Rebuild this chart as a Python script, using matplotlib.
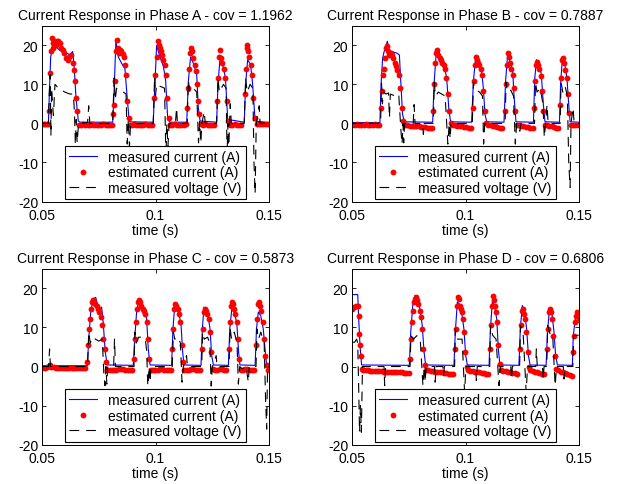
import matplotlib
matplotlib.use("Agg")
import matplotlib.pyplot as plt

plt.rcParams['font.family'] = ['Liberation Sans', 'DejaVu Sans']
plt.rcParams['axes.unicode_minus'] = False
plt.rcParams['lines.scale_dashes'] = False

# ---------------- Phase A ----------------
tA_meas = [0.050, 0.0527, 0.0531, 0.0537, 0.0544, 0.0556, 0.0571, 0.0585, 0.0608, 0.0622, 0.0634, 0.0640, 0.0649, 0.0659, 0.0666,
           0.0811, 0.0817, 0.0825, 0.0836, 0.0850, 0.0865, 0.0873, 0.0884,
           0.0990, 0.0998, 0.1005, 0.1017, 0.1035, 0.1045, 0.1054, 0.1064,
           0.1138, 0.1145, 0.1155, 0.1167, 0.1182, 0.1189, 0.1197,
           0.1270, 0.1276, 0.1285, 0.1297, 0.1309, 0.1319,
           0.1392, 0.1398, 0.1407, 0.1420, 0.1429, 0.1440, 0.150]
iA_meas = [0.2, 0.2, 7.4, 17.0, 19.0, 20.0, 19.0, 18.4, 18.0, 17.5, 18.4, 15.0, 6.5, 0.6, 0.3,
           0.3, 8.0, 21.0, 17.0, 15.4, 14.0, 8.0, 0.4,
           0.3, 10.8, 20.0, 17.5, 14.6, 10.8, 1.0, 0.3,
           0.3, 10.8, 17.0, 15.4, 12.5, 4.0, 0.6,
           0.3, 10.0, 16.7, 15.0, 11.6, 1.0,
           0.3, 10.0, 16.3, 15.0, 10.0, 0.6, 0.2]

tA_est = [0.0500, 0.0507, 0.0514, 0.0521, 0.0527,
          0.0531, 0.0534, 0.0538, 0.0541, 0.0546, 0.0549, 0.0553, 0.0559, 0.0563, 0.0571, 0.0578, 0.0582,
          0.0590, 0.0597, 0.0605, 0.0612, 0.0619, 0.0627, 0.0634, 0.0640, 0.0644, 0.0649, 0.0655, 0.0661,
          0.0670, 0.0680, 0.0690, 0.0700, 0.0710, 0.0720, 0.0730, 0.0740, 0.0750, 0.0760, 0.0770, 0.0780,
          0.0790, 0.0800, 0.0810,
          0.0814, 0.0817, 0.0821, 0.0825, 0.0828, 0.0833, 0.0837, 0.0843, 0.0849, 0.0855, 0.0861, 0.0865,
          0.0870, 0.0876, 0.0881, 0.0887,
          0.0895, 0.0905, 0.0915, 0.0925, 0.0935, 0.0945, 0.0955, 0.0965, 0.0975, 0.0985,
          0.0995, 0.0999, 0.1005, 0.1010, 0.1014, 0.1018, 0.1023, 0.1029, 0.1035, 0.1041, 0.1046, 0.1052,
          0.1058, 0.1064,
          0.1074, 0.1084, 0.1094, 0.1104, 0.1114, 0.1124, 0.1134,
          0.1141, 0.1145, 0.1150, 0.1154, 0.1157, 0.1161, 0.1167, 0.1173, 0.1179, 0.1185, 0.1189, 0.1194, 0.1200,
          0.1210, 0.1220, 0.1230, 0.1240, 0.1250, 0.1260,
          0.1273, 0.1278, 0.1282, 0.1285, 0.1289, 0.1295, 0.1301, 0.1307, 0.1314, 0.1322, 0.1329,
          0.1339, 0.1349, 0.1359, 0.1369, 0.1379,
          0.1394, 0.1398, 0.1403, 0.1406, 0.1410, 0.1415, 0.1420, 0.1426, 0.1432, 0.1440, 0.1447,
          0.1457, 0.1467, 0.1477, 0.1487, 0.1497]
iA_est = [-0.1, -0.1, -0.1, -0.1, -0.1,
          3.1, 13.0, 18.4, 21.8, 20.5, 19.2, 21.0, 20.0, 21.0, 21.0, 20.5, 19.2,
          18.8, 18.0, 16.7, 16.3, 16.9, 17.5, 15.4, 13.7, 10.8, 6.5, 3.1, -0.3,
          -0.3, -0.2, -0.3, -0.4, -0.3, -0.2, -0.3, -0.3, -0.4, -0.3, -0.2, -0.3,
          -0.3, -0.4, -0.3,
          2.3, 4.8, 10.8, 18.4, 21.4, 19.2, 18.0, 18.8, 18.5, 17.8, 17.0, 15.0,
          12.5, 5.7, 1.4, -0.3,
          -0.3, -0.2, -0.3, -0.4, -0.3, -0.3, -0.2, -0.3, -0.4, -0.3,
          6.5, 12.5, 17.0, 21.0, 20.0, 19.2, 18.4, 17.5, 16.3, 15.0, 12.5, 6.5,
          1.4, -0.3,
          -0.3, -0.2, -0.3, -0.4, -0.3, -0.3, -0.2,
          4.0, 9.0, 14.0, 18.0, 19.2, 18.4, 16.7, 15.0, 13.3, 10.0, 5.7, 2.3, -0.1,
          -0.3, -0.2, -0.3, -0.4, -0.3, -0.3,
          5.7, 11.6, 17.0, 18.8, 16.7, 15.4, 14.0, 11.6, 5.7, 0.6, -0.3,
          -0.3, -0.2, -0.3, -0.4, -0.3,
          7.4, 14.0, 19.2, 20.0, 18.4, 17.0, 15.0, 12.5, 6.5, 1.4, -0.1,
          -0.1, -0.2, -0.1, -0.1, -0.2]

tA_volt = [0.050, 0.0527, 0.0531, 0.0535, 0.0538, 0.0541, 0.0549, 0.0556, 0.0571, 0.0585, 0.0600, 0.0622,
           0.0637, 0.0642, 0.0646, 0.0650, 0.0654, 0.0660, 0.0700, 0.0705, 0.0710,
           0.0811, 0.0817, 0.0822, 0.0828, 0.0843, 0.0858, 0.0870, 0.0875, 0.0880, 0.0885, 0.0890,
           0.0990, 0.0996, 0.1000, 0.1005, 0.1020, 0.1040, 0.1046, 0.1050, 0.1055, 0.1060, 0.1088, 0.1093, 0.1097,
           0.1140, 0.1145, 0.1152, 0.1167, 0.1182, 0.1190, 0.1195, 0.1200, 0.1205, 0.1215, 0.1220,
           0.1270, 0.1276, 0.1282, 0.1300, 0.1312, 0.1316, 0.1320, 0.1323, 0.1327, 0.1330, 0.1335,
           0.1392, 0.1398, 0.1405, 0.1418, 0.1430, 0.1435, 0.1440, 0.1445, 0.1458, 0.1462, 0.150]
vA_volt = [0.0, 0.0, 8.0, 12.5, -3.2, 9.0, 2.0, 10.0, 9.0, 8.5, 8.0, 7.5,
           7.5, 3.0, -5.5, 1.0, -5.0, 0.0, 0.2, 4.5, 0.0,
           0.0, 11.6, 6.0, 9.0, 8.5, 8.0, 7.5, -5.3, 1.0, -6.0, 0.0,
           0.0, 12.0, 7.0, 10.0, 9.5, 9.0, -9.0, 0.0, -6.0, 0.0, 0.0, 4.0, 0.0,
           0.0, 11.0, 8.0, 9.0, 8.0, -5.0, 0.5, -5.0, 0.0, 3.0, 0.0,
           0.0, 11.6, 8.0, 10.0, 9.0, -8.0, 0.0, -8.0, 0.0, 5.0, 0.0,
           0.0, 11.6, 8.0, 10.0, 9.0, -10.0, -18.0, 0.0, 4.5, 0.0, 0.0]

# ---------------- Phase B ----------------
tB_meas = [0.050, 0.0622, 0.0627, 0.0634, 0.0644, 0.0655, 0.0663, 0.0674, 0.0696, 0.0708, 0.0714, 0.0722, 0.0730,
           0.0855, 0.0861, 0.0870, 0.0880, 0.0890, 0.0905, 0.0917, 0.0926, 0.0934,
           0.1027, 0.1035, 0.1045, 0.1057, 0.1071, 0.1079, 0.1086, 0.1094,
           0.1170, 0.1177, 0.1186, 0.1197, 0.1208, 0.1214, 0.1223,
           0.1300, 0.1306, 0.1314, 0.1326, 0.1335, 0.1344, 0.1351,
           0.1415, 0.1420, 0.1428, 0.1440, 0.1448, 0.1456, 0.1462, 0.150]
iB_meas = [0.2, 0.2, 10.0, 16.7, 19.2, 21.0, 18.4, 18.4, 18.0, 17.5, 10.8, 2.3, 0.4,
           0.3, 10.0, 17.5, 19.2, 16.7, 15.0, 11.6, 4.0, 0.4,
           0.3, 10.8, 17.0, 15.8, 13.3, 9.0, 2.3, 0.4,
           0.3, 10.8, 17.5, 15.8, 13.7, 7.4, 0.4,
           0.3, 11.6, 16.3, 15.0, 12.5, 4.8, 0.4,
           0.3, 10.0, 16.7, 14.6, 11.6, 4.8, 0.4, 0.3]

tB_est = [0.0500, 0.0510, 0.0520, 0.0530, 0.0540, 0.0550, 0.0560, 0.0570, 0.0580, 0.0590, 0.0600, 0.0610, 0.0620,
          0.0627, 0.0631, 0.0635, 0.0638, 0.0643, 0.0649, 0.0653, 0.0658, 0.0663, 0.0669, 0.0675, 0.0681,
          0.0687, 0.0693, 0.0699, 0.0705, 0.0711, 0.0718, 0.0725, 0.0733,
          0.0743, 0.0753, 0.0763, 0.0773, 0.0783, 0.0793, 0.0803, 0.0813, 0.0823, 0.0833, 0.0843, 0.0853,
          0.0858, 0.0862, 0.0867, 0.0871, 0.0876, 0.0880, 0.0886, 0.0892, 0.0898, 0.0904, 0.0910, 0.0915,
          0.0921, 0.0927, 0.0934,
          0.0944, 0.0954, 0.0964, 0.0974, 0.0984, 0.0994, 0.1004, 0.1014, 0.1024,
          0.1032, 0.1036, 0.1041, 0.1045, 0.1049, 0.1055, 0.1061, 0.1067, 0.1073, 0.1079, 0.1085, 0.1091,
          0.1101, 0.1111, 0.1121, 0.1131, 0.1141, 0.1151, 0.1161,
          0.1175, 0.1179, 0.1183, 0.1188, 0.1192, 0.1197, 0.1203, 0.1208, 0.1214, 0.1220, 0.1226,
          0.1236, 0.1246, 0.1256, 0.1266, 0.1276, 0.1286, 0.1296,
          0.1303, 0.1307, 0.1312, 0.1316, 0.1320, 0.1326, 0.1332, 0.1338, 0.1344, 0.1350,
          0.1360, 0.1370, 0.1380, 0.1390, 0.1400, 0.1410,
          0.1418, 0.1422, 0.1426, 0.1431, 0.1435, 0.1441, 0.1447, 0.1453, 0.1459, 0.1465,
          0.1475, 0.1485, 0.1495]
iB_est = [-0.3, -0.3, -0.2, -0.3, -0.3, -0.3, -0.2, -0.3, -0.3, -0.3, -0.2, -0.3, -0.3,
          4.0, 8.2, 12.5, 14.0, 16.7, 19.2, 19.7, 18.4, 17.5, 18.0, 17.5, 16.7,
          15.4, 14.6, 13.7, 12.5, 9.0, 4.0, 0.6, -0.3,
          -0.5, -0.6, -0.7, -0.7, -0.8, -0.8, -0.9, -0.9, -1.0, -1.1, -1.2, -1.3,
          3.1, 10.0, 15.4, 18.0, 18.8, 17.5, 16.7, 16.3, 15.4, 15.0, 14.0, 11.6,
          7.4, 3.1, 0.0,
          -0.3, -0.5, -0.6, -0.7, -0.8, -0.9, -1.0, -1.2, -1.3,
          4.0, 10.8, 15.0, 17.0, 16.3, 15.4, 15.0, 14.0, 12.5, 8.2, 3.1, 0.0,
          -0.3, -0.5, -0.7, -0.8, -1.0, -1.1, -1.3,
          3.1, 10.0, 15.0, 18.0, 17.0, 15.4, 14.0, 12.5, 9.0, 3.1, -0.3,
          -0.4, -0.6, -0.7, -0.9, -1.0, -1.2, -1.3,
          4.0, 10.8, 15.0, 15.8, 15.0, 14.0, 12.0, 8.2, 3.1, -0.3,
          -0.4, -0.6, -0.8, -1.0, -1.1, -1.3,
          4.8, 11.6, 16.3, 16.7, 15.4, 13.7, 11.6, 7.4, 2.7, -0.3,
          -0.4, -0.5, -0.5]

tB_volt = [0.050, 0.0625, 0.0629, 0.0633, 0.0638, 0.0649, 0.0660, 0.0664, 0.0668, 0.0690, 0.0705, 0.0715,
           0.0720, 0.0724, 0.0727, 0.0731, 0.0769, 0.0773, 0.0777, 0.0810, 0.0814, 0.0818,
           0.0858, 0.0862, 0.0867, 0.0880, 0.0895, 0.0910, 0.0922, 0.0928, 0.0932, 0.0936,
           0.1030, 0.1035, 0.1040, 0.1050, 0.1062, 0.1075, 0.1080, 0.1085,
           0.1175, 0.1179, 0.1185, 0.1200, 0.1212, 0.1220, 0.1226, 0.1240, 0.1245,
           0.1305, 0.1309, 0.1316, 0.1330, 0.1342, 0.1348, 0.1354, 0.1360, 0.1365,
           0.1418, 0.1422, 0.1430, 0.1440, 0.1450, 0.1456, 0.1462, 0.1466, 0.1475, 0.1480, 0.150]
vB_volt = [0.0, 0.0, 10.3, 5.0, 8.0, 7.5, 7.8, 1.4, 7.5, 7.0, 7.5, -2.0,
           -5.3, 0.0, -5.0, 0.0, 0.0, 4.8, 0.0, 0.0, -2.8, 0.0,
           0.0, 10.5, 7.0, 8.0, 7.5, 7.0, -5.3, 0.0, -4.0, 0.0,
           0.0, 10.5, 9.0, 8.5, 8.0, 7.0, -5.3, 0.0,
           0.0, 10.5, 8.0, 8.5, 7.0, -5.3, 0.0, -2.0, 0.0,
           0.0, 10.5, 8.0, 9.0, 5.0, -3.6, 0.0, 4.8, 0.0,
           0.0, 10.5, 8.0, 9.5, 7.0, -10.0, -16.4, 0.0, 4.0, 0.0, 0.0]

# ---------------- Phase C ----------------
tC_meas = [0.050, 0.0699, 0.0705, 0.0714, 0.0725, 0.0736, 0.0744, 0.0755, 0.0762, 0.0769, 0.0778, 0.0787,
           0.0902, 0.0908, 0.0917, 0.0927, 0.0939, 0.0951, 0.0961, 0.0968, 0.0976,
           0.1071, 0.1077, 0.1085, 0.1094, 0.1104, 0.1113, 0.1120, 0.1126,
           0.1201, 0.1207, 0.1214, 0.1223, 0.1233, 0.1241, 0.1248, 0.1256,
           0.1322, 0.1328, 0.1337, 0.1347, 0.1359, 0.1367, 0.1373,
           0.1440, 0.1446, 0.1454, 0.1465, 0.1476, 0.1485, 0.1491, 0.150]
iC_meas = [0.2, 0.2, 7.0, 14.0, 17.3, 17.7, 15.6, 14.7, 15.2, 11.3, 3.7, 0.4,
           0.3, 7.0, 14.3, 16.9, 15.2, 14.3, 12.2, 4.5, 0.4,
           0.3, 9.6, 15.6, 14.7, 13.5, 10.5, 3.7, 0.4,
           0.3, 9.6, 15.2, 13.9, 12.6, 9.6, 2.8, 0.4,
           0.3, 9.6, 14.7, 13.9, 11.3, 3.7, 0.4,
           0.3, 9.6, 13.9, 13.0, 9.6, 3.7, 0.4, 0.4]

tC_est = [0.0500, 0.0510, 0.0520, 0.0530, 0.0534, 0.0540, 0.0550, 0.0560, 0.0570, 0.0580, 0.0590, 0.0600,
          0.0610, 0.0620, 0.0630, 0.0640, 0.0650, 0.0660, 0.0670, 0.0680, 0.0690,
          0.0699, 0.0703, 0.0708, 0.0712, 0.0717, 0.0721, 0.0725, 0.0730, 0.0734, 0.0740, 0.0746, 0.0752,
          0.0758, 0.0764, 0.0770, 0.0775, 0.0781, 0.0787,
          0.0797, 0.0807, 0.0817, 0.0827, 0.0837, 0.0847, 0.0857, 0.0867, 0.0877, 0.0887, 0.0897,
          0.0905, 0.0909, 0.0914, 0.0918, 0.0922, 0.0927, 0.0932, 0.0937, 0.0943, 0.0949, 0.0955, 0.0961,
          0.0967, 0.0973, 0.0979,
          0.0989, 0.0999, 0.1009, 0.1019, 0.1029, 0.1039, 0.1049, 0.1059, 0.1069,
          0.1074, 0.1079, 0.1083, 0.1088, 0.1092, 0.1098, 0.1104, 0.1110, 0.1116, 0.1122, 0.1127,
          0.1137, 0.1147, 0.1157, 0.1167, 0.1177, 0.1187, 0.1197,
          0.1204, 0.1208, 0.1213, 0.1217, 0.1223, 0.1229, 0.1235, 0.1241, 0.1246, 0.1253,
          0.1263, 0.1273, 0.1283, 0.1293, 0.1303, 0.1313,
          0.1325, 0.1329, 0.1334, 0.1338, 0.1342, 0.1347, 0.1353, 0.1359, 0.1365, 0.1370, 0.1376,
          0.1386, 0.1396, 0.1406, 0.1416, 0.1426, 0.1436,
          0.1444, 0.1449, 0.1453, 0.1457, 0.1462, 0.1468, 0.1474, 0.1479, 0.1485, 0.1491, 0.1497]
iC_est = [-0.3, -0.3, -0.2, 0.2, 0.4, 0.0, -0.2, -0.3, -0.3, -0.4, -0.3, -0.3,
          -0.4, -0.3, -0.3, -0.4, -0.3, -0.3, -0.4, -0.3, -0.3,
          1.1, 5.4, 9.6, 12.2, 14.7, 16.4, 16.9, 16.4, 16.0, 15.6, 14.7, 13.9,
          12.6, 10.5, 7.0, 4.5, 1.1, -1.0,
          -1.0, -0.9, -0.8, -0.8, -0.7, -0.7, -0.7, -0.8, -0.8, -0.9, -0.9,
          2.0, 7.0, 11.3, 14.7, 16.4, 17.1, 16.4, 15.6, 14.7, 14.3, 13.5, 11.3,
          7.0, 2.0, -0.9,
          -0.9, -0.8, -0.8, -0.7, -0.7, -0.8, -0.8, -0.9, -0.9,
          4.5, 9.6, 14.7, 16.0, 15.6, 14.7, 13.5, 11.3, 5.4, 1.1, -0.8,
          -0.9, -0.8, -0.7, -0.7, -0.8, -0.8, -0.9,
          4.5, 9.6, 13.9, 14.7, 14.3, 13.5, 12.2, 8.8, 3.7, -0.6,
          -0.8, -0.8, -0.7, -0.7, -0.8, -0.9,
          4.5, 11.3, 15.6, 16.4, 16.0, 14.7, 13.5, 11.3, 7.0, 2.0, -0.8,
          -0.8, -0.7, -0.7, -0.8, -0.8, -0.9,
          5.4, 12.2, 16.0, 16.4, 15.6, 14.3, 11.3, 7.0, 2.8, 0.3, -1.0]

tC_volt = [0.050, 0.0528, 0.0532, 0.0536, 0.0700, 0.0705, 0.0712, 0.0720, 0.0735, 0.0750, 0.0765, 0.0772,
           0.0777, 0.0781, 0.0785, 0.0789, 0.0815, 0.0819, 0.0823,
           0.0905, 0.0909, 0.0915, 0.0925, 0.0940, 0.0955, 0.0961, 0.0966, 0.0972, 0.0976, 0.0980,
           0.1074, 0.1079, 0.1085, 0.1100, 0.1110, 0.1117, 0.1123, 0.1137, 0.1141,
           0.1204, 0.1208, 0.1215, 0.1230, 0.1240, 0.1246, 0.1251, 0.1268, 0.1272,
           0.1325, 0.1329, 0.1336, 0.1348, 0.1360, 0.1366, 0.1372, 0.1382, 0.1400, 0.1410, 0.1414,
           0.1444, 0.1448, 0.1455, 0.1465, 0.1480, 0.1486, 0.1491, 0.1495, 0.150]
vC_volt = [0.0, 0.0, 4.5, 0.0, 0.0, 8.8, 6.0, 7.5, 7.0, 6.5, 7.0, -2.0,
           -4.9, 0.0, -4.5, 0.0, 0.0, 7.0, 0.0,
           0.0, 8.8, 6.0, 7.5, 7.5, 7.0, 4.0, -5.0, 0.0, -4.0, 0.0,
           0.0, 8.8, 7.0, 7.5, 6.0, -4.0, 0.0, 2.8, 0.0,
           0.0, 8.8, 7.0, 7.5, 6.0, -5.0, 0.0, 2.8, 0.0,
           0.0, 10.0, 7.0, 8.8, 6.0, -4.5, 0.0, -0.6, 0.0, -4.0, 0.0,
           0.0, 9.6, 7.0, 8.8, 6.0, -8.0, -16.0, 0.0, 0.0]

# ---------------- Phase D ----------------
tD_meas = [0.050, 0.0524, 0.0529, 0.0534, 0.0541,
           0.0752, 0.0758, 0.0767, 0.0777, 0.0787, 0.0799, 0.0809, 0.0817, 0.0824,
           0.0949, 0.0955, 0.0964, 0.0973, 0.0983, 0.0993, 0.1001, 0.1008,
           0.1104, 0.1110, 0.1119, 0.1127, 0.1138, 0.1145, 0.1152,
           0.1236, 0.1242, 0.1251, 0.1260, 0.1270, 0.1278, 0.1285,
           0.1356, 0.1362, 0.1371, 0.1381, 0.1391, 0.1398, 0.1406,
           0.1472, 0.1476, 0.1485, 0.1494, 0.150]
iD_meas = [18.4, 18.4, 11.3, 5.4, 0.4,
           0.3, 8.8, 15.6, 18.2, 16.9, 14.7, 10.5, 3.7, 0.4,
           0.3, 8.8, 16.5, 16.0, 13.9, 9.6, 2.8, 0.4,
           0.3, 9.6, 16.9, 15.6, 12.2, 4.5, 0.4,
           0.3, 9.6, 15.6, 14.3, 9.6, 2.8, 0.4,
           0.3, 8.8, 14.7, 13.9, 8.8, 2.8, 0.4,
           0.3, 7.9, 12.2, 14.3, 13.0]

tD_est = [0.0500, 0.0509, 0.0516, 0.0524, 0.0528, 0.0531, 0.0534, 0.0537, 0.0541, 0.0549,
          0.0559, 0.0569, 0.0579, 0.0589, 0.0599, 0.0609, 0.0619, 0.0629, 0.0639, 0.0649,
          0.0659, 0.0669, 0.0679, 0.0689, 0.0699, 0.0709, 0.0719, 0.0729, 0.0739, 0.0749,
          0.0755, 0.0759, 0.0764, 0.0768, 0.0772, 0.0777, 0.0781, 0.0786, 0.0792, 0.0799, 0.0805, 0.0809,
          0.0814, 0.0820, 0.0826,
          0.0836, 0.0846, 0.0856, 0.0866, 0.0876, 0.0886, 0.0896, 0.0906, 0.0916, 0.0926, 0.0936, 0.0946,
          0.0952, 0.0957, 0.0961, 0.0965, 0.0970, 0.0974, 0.0979, 0.0983, 0.0987, 0.0993, 0.0999, 0.1005, 0.1011,
          0.1021, 0.1031, 0.1041, 0.1051, 0.1061, 0.1071, 0.1081, 0.1091, 0.1101,
          0.1107, 0.1111, 0.1116, 0.1120, 0.1124, 0.1129, 0.1133, 0.1139, 0.1145, 0.1151, 0.1157,
          0.1167, 0.1177, 0.1187, 0.1197, 0.1207, 0.1217, 0.1227,
          0.1239, 0.1244, 0.1248, 0.1253, 0.1257, 0.1263, 0.1269, 0.1275, 0.1281, 0.1286,
          0.1296, 0.1306, 0.1316, 0.1326, 0.1336, 0.1346,
          0.1359, 0.1363, 0.1368, 0.1372, 0.1376, 0.1382, 0.1388, 0.1394, 0.1400,
          0.1410, 0.1420, 0.1430, 0.1440, 0.1450, 0.1460, 0.1470,
          0.1474, 0.1478, 0.1482, 0.1487, 0.1491, 0.1496, 0.1500]
iD_est = [14.7, 15.2, 15.6, 15.6, 13.0, 8.4, 5.4, 2.8, -0.6, -1.0,
          -1.0, -1.0, -1.1, -1.1, -1.1, -1.2, -1.2, -1.2, -1.3, -1.3,
          -1.3, -1.4, -1.4, -1.4, -1.5, -1.5, -1.5, -1.6, -1.6, -1.6,
          2.0, 7.0, 11.3, 14.3, 16.5, 17.3, 17.7, 16.9, 16.0, 14.3, 12.6, 9.6,
          4.5, 0.3, -1.0,
          -1.0, -1.1, -1.2, -1.3, -1.4, -1.5, -1.5, -1.6, -1.7, -1.8, -1.8, -1.9,
          4.5, 9.6, 15.6, 17.7, 17.3, 15.6, 14.7, 13.9, 12.2, 8.8, 3.7, -0.2, -1.0,
          -1.1, -1.2, -1.3, -1.4, -1.5, -1.6, -1.7, -1.8, -1.9,
          4.5, 10.5, 15.6, 18.0, 16.9, 15.6, 13.9, 11.3, 5.4, 0.7, -1.0,
          -1.1, -1.2, -1.4, -1.5, -1.6, -1.7, -1.8,
          4.5, 10.5, 14.3, 14.7, 13.5, 12.2, 8.8, 3.7, -0.2, -1.0,
          -1.1, -1.3, -1.5, -1.7, -1.8, -2.0,
          4.5, 9.6, 13.9, 14.7, 13.9, 12.2, 7.9, 2.8, -0.6,
          -1.0, -1.3, -1.5, -1.7, -1.9, -2.1, -2.3,
          3.7, 7.9, 11.3, 13.0, 14.0, 13.0, 12.0]

tD_volt = [0.050, 0.0510, 0.0519, 0.0524, 0.0528, 0.0532, 0.0536, 0.0540, 0.0545, 0.0640, 0.0643, 0.0647,
           0.0755, 0.0759, 0.0770, 0.0785, 0.0800, 0.0812, 0.0818, 0.0822, 0.0826, 0.0863, 0.0866, 0.0870,
           0.0900, 0.0903, 0.0907,
           0.0952, 0.0955, 0.0965, 0.0985, 0.0996, 0.1002, 0.1045, 0.1048, 0.1052,
           0.1107, 0.1111, 0.1120, 0.1135, 0.1148, 0.1154, 0.1200, 0.1203, 0.1207,
           0.1239, 0.1243, 0.1255, 0.1268, 0.1274, 0.1310, 0.1313, 0.1317, 0.1340, 0.1343, 0.1347,
           0.1359, 0.1363, 0.1375, 0.1385, 0.1396, 0.1402, 0.1432, 0.1435, 0.1439,
           0.1474, 0.1478, 0.1490, 0.150]
vD_volt = [6.2, 6.2, 7.0, 6.0, -5.0, -16.8, -10.0, -16.8, 0.0, 0.0, -4.9, 0.0,
           0.0, 7.9, 7.0, 7.9, 7.0, -4.9, 0.0, -4.0, 0.0, 0.0, -4.0, 0.0,
           0.0, -2.3, 0.0,
           0.0, 9.6, 7.0, 7.0, -6.6, 0.0, 0.0, -3.6, 0.0,
           0.0, 10.5, 8.0, 7.0, -4.9, 0.0, 0.0, -3.2, 0.0,
           0.0, 10.5, 8.0, -6.6, 0.0, 0.0, 4.5, 0.0, 0.0, -3.2, 0.0,
           0.0, 10.5, 8.0, 8.0, -4.9, 0.0, 0.0, -3.2, 0.0,
           0.0, 7.9, 8.0, 8.0]

titles = ['Current Response in Phase A - cov = 1.1962',
          'Current Response in Phase B - cov = 0.7887',
          'Current Response in Phase C - cov = 0.5873',
          'Current Response in Phase D - cov = 0.6806']

panels = [
    (tA_meas, iA_meas, tA_est, iA_est, tA_volt, vA_volt),
    (tB_meas, iB_meas, tB_est, iB_est, tB_volt, vB_volt),
    (tC_meas, iC_meas, tC_est, iC_est, tC_volt, vC_volt),
    (tD_meas, iD_meas, tD_est, iD_est, tD_volt, vD_volt),
]

W, H = 631, 485
# axes boxes in pixels: left, top, width, height
boxes = [(42.3, 26.7, 226.4, 175.8), (352.3, 26.7, 226.4, 175.8),
         (42.3, 269.8, 226.4, 175.9), (352.3, 269.8, 226.4, 175.9)]

fig = plt.figure(figsize=(W / 100, H / 100), dpi=100)

for title, box, (tm, im, te, ie, tv, vv) in zip(titles, boxes, panels):
    l, t, w, h = box
    ax = fig.add_axes([l / W, 1 - (t + h) / H, w / W, h / H])
    ax.plot(tm, im, color='blue', lw=0.8, label='measured current (A)')
    ax.plot(te, ie, 'o', color='red', ms=4.2, mew=0, label='estimated current (A)')
    ax.plot(tv, vv, color='black', lw=0.8, dashes=(7, 5), label='measured voltage (V)')

    ax.set_xlim(0.05, 0.15)
    ax.set_ylim(-20, 25)
    ax.set_xticks([0.05, 0.1, 0.15])
    ax.set_xticklabels(['0.05', '0.1', '0.15'])
    ax.set_yticks([-20, -10, 0, 10, 20])
    ax.tick_params(direction='in', top=True, right=True, length=3, width=0.6, labelsize=10)
    ax.tick_params(axis='x', pad=4.5)
    ax.tick_params(axis='y', pad=3)
    for s in ax.spines.values():
        s.set_linewidth(0.7)

    ax.set_title(title, fontsize=10, pad=5)
    ax.set_xlabel('time (s)', fontsize=10, labelpad=1)

    leg = ax.legend(loc='lower center', bbox_to_anchor=(0.5, 0.014), borderaxespad=0,
                    fancybox=False, framealpha=1, edgecolor='black', fontsize=10,
                    labelspacing=0.1, handlelength=2.0, handletextpad=0.8,
                    borderpad=0.3, numpoints=1)
    leg.get_frame().set_linewidth(0.8)

fig.savefig('out.png', dpi=100)
